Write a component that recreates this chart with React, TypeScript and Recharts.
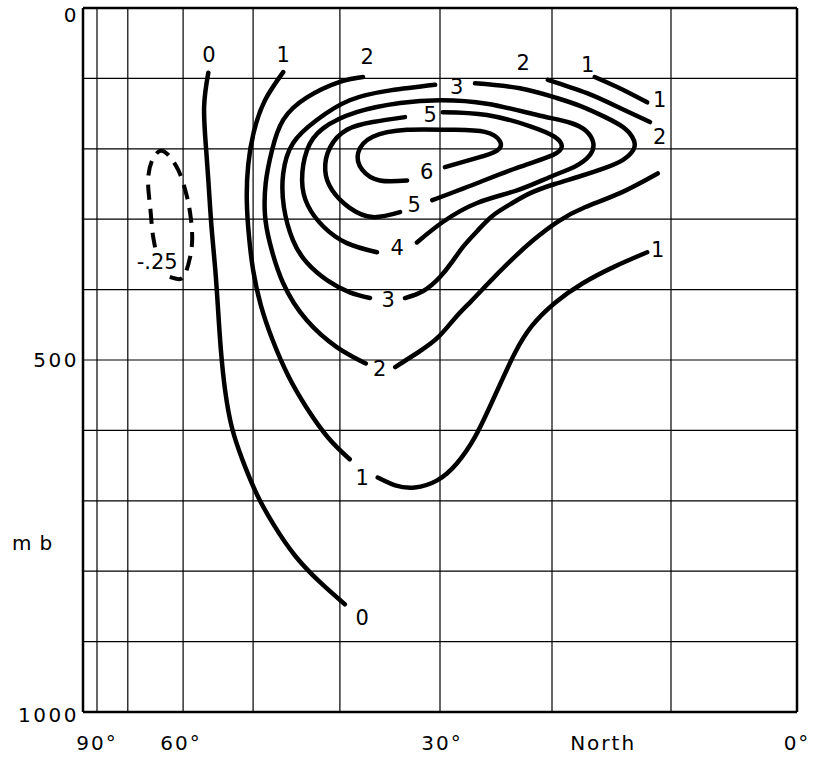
import { ComposedChart, Line, Scatter, XAxis, YAxis, ReferenceLine, Label } from "recharts";

const FONT = '"DejaVu Sans", sans-serif';

// x is sin(latitude) (equal-area axis, 90° left, 0° right), y is pressure in mb
const gridSin = [1.0, 0.956, 0.877, 0.777, 0.653, 0.51, 0.35, 0.18];
const gridMb = [100, 200, 300, 400, 500, 600, 700, 800, 900];
const frameSin = [1.02, 0];
const frameMb = [0, 1000];

const latTicks = [1.0, 0.88, 0.507, 0.277, 0];
const latLabels = ["90°", "60°", "30°", "North", "0°"];
const mbTicks = [0, 500, 1000];

// contour pieces, [sin lat, mb]
const c0 = [[0.841, 92], [0.847, 141], [0.844, 202], [0.84, 259], [0.836, 316], [0.831, 372], [0.827, 429], [0.823, 486], [0.817, 543], [0.807, 597], [0.791, 645], [0.771, 692], [0.747, 735], [0.717, 778], [0.681, 816], [0.646, 847]];
const c1West = [[0.734, 91], [0.76, 131], [0.776, 176], [0.784, 223], [0.786, 273], [0.783, 323], [0.777, 372], [0.766, 422], [0.749, 472], [0.727, 522], [0.701, 567], [0.67, 610], [0.639, 641]];
const c1East = [[0.599, 667], [0.574, 678], [0.546, 681], [0.514, 671], [0.486, 647], [0.461, 611], [0.441, 571], [0.423, 532], [0.403, 490], [0.379, 452], [0.346, 419], [0.306, 391], [0.26, 367], [0.214, 347]];
const c1Top = [[0.289, 98], [0.251, 115], [0.214, 134]];
const c2West = [[0.62, 98], [0.653, 105], [0.7, 127], [0.734, 159], [0.75, 202], [0.759, 249], [0.76, 294], [0.753, 334], [0.734, 391], [0.7, 444], [0.657, 482], [0.616, 505]];
const c2East = [[0.574, 510], [0.541, 489], [0.513, 468], [0.489, 441], [0.466, 417], [0.439, 389], [0.41, 360], [0.377, 330], [0.341, 303], [0.303, 283], [0.253, 263], [0.199, 235]];
const c2Top = [[0.356, 102], [0.3, 121], [0.253, 142], [0.21, 162]];
const c3West = [[0.517, 109], [0.581, 117], [0.639, 131], [0.686, 159], [0.72, 192], [0.734, 235], [0.733, 283], [0.72, 330], [0.7, 362], [0.671, 387], [0.639, 404], [0.61, 412]];
const c3East = [[0.56, 412], [0.534, 402], [0.51, 382], [0.493, 361], [0.476, 338], [0.457, 317], [0.436, 296], [0.41, 279], [0.381, 263], [0.346, 250], [0.31, 239], [0.274, 227], [0.249, 216], [0.234, 202], [0.233, 188], [0.246, 171], [0.274, 155], [0.31, 139], [0.346, 127], [0.396, 114], [0.46, 107]];
const c4 = [[0.543, 333], [0.506, 304], [0.457, 277], [0.4, 259], [0.353, 240], [0.317, 225], [0.296, 209], [0.291, 192], [0.301, 175], [0.324, 163], [0.371, 152], [0.443, 136], [0.51, 131], [0.567, 135], [0.629, 148], [0.677, 171], [0.7, 202], [0.707, 245], [0.699, 280], [0.677, 310], [0.643, 334], [0.6, 347]];
const c5West = [[0.56, 155], [0.606, 162], [0.643, 173], [0.667, 198], [0.674, 230], [0.664, 259], [0.639, 284], [0.606, 297], [0.567, 290]];
const c5East = [[0.506, 148], [0.443, 152], [0.381, 168], [0.346, 183], [0.336, 196], [0.349, 209], [0.4, 227], [0.46, 250], [0.521, 273]];
const c6 = [[0.503, 226], [0.457, 213], [0.429, 203], [0.424, 190], [0.446, 176], [0.496, 173], [0.557, 173], [0.606, 183], [0.627, 206], [0.621, 230], [0.596, 245], [0.557, 245]];
const cNeg = [[0.917, 340], [0.921, 316], [0.924, 283], [0.927, 245], [0.921, 216], [0.91, 203], [0.899, 208], [0.884, 230], [0.873, 262], [0.867, 291], [0.864, 326], [0.867, 354], [0.873, 375], [0.881, 385], [0.896, 382]];

const solidPieces = [c0, c1West, c1East, c1Top, c2West, c2East, c2Top, c3West, c3East, c4, c5West, c5East, c6];

// contour labels: [sin lat, mb, text]
const contourLabels: [number, number, string][] = [
  [0.84, 67, "0"], [0.734, 67, "1"], [0.614, 70, "2"], [0.391, 78, "2"], [0.299, 81, "1"],
  [0.486, 112, "3"], [0.196, 131, "1"], [0.524, 152, "5"], [0.196, 183, "2"], [0.529, 233, "6"],
  [0.547, 280, "5"], [0.571, 341, "4"], [0.584, 415, "3"], [0.199, 344, "1"], [0.596, 513, "2"],
  [0.621, 667, "1"], [0.621, 867, "0"], [0.914, 361, "-.25"],
];

const pts = (a: number[][]) => a.map(([x, y]) => ({ x, y }));
const labelData = contourLabels.map(([x, y, t]) => ({ x, y, t }));

const XTick = (props: any) => {
  const { x, y, payload } = props;
  const i = latTicks.indexOf(payload.value);
  return (
    <text x={x} y={y + 38} textAnchor="middle" fontFamily={FONT} fontSize={20} letterSpacing={2} fill="#000">
      {latLabels[i]}
    </text>
  );
};

const YTick = (props: any) => {
  const { x, y, payload } = props;
  const shift = payload.value === 0 ? 7 : payload.value === 1000 ? 3 : 0;
  return (
    <text x={x - 4} y={y + shift} textAnchor="end" dominantBaseline="central" fontFamily={FONT} fontSize={20} letterSpacing={2.5} fill="#000">
      {payload.value}
    </text>
  );
};

const LabelShape = (props: any) => {
  const { cx, cy, payload } = props;
  return (
    <text x={cx} y={cy} textAnchor="middle" dominantBaseline="central" fontFamily={FONT} fontSize={21} fill="#000">
      {payload.t}
    </text>
  );
};

export default function App() {
  return (
    <div style={{ position: "absolute", left: 0, top: 0, background: "#fff" }}>
      <ComposedChart width={822} height={761} margin={{ top: 8, right: 25, bottom: 0, left: 0 }}>
        <XAxis dataKey="x" type="number" domain={[0, 1.02]} reversed allowDataOverflow ticks={latTicks} interval={0}
          axisLine={false} tickLine={false} tickSize={0} tickMargin={0} height={49} tick={<XTick />} />
        <YAxis type="number" domain={[0, 1000]} reversed allowDataOverflow ticks={mbTicks} interval={0}
          axisLine={false} tickLine={false} tickSize={0} tickMargin={0} width={83} tick={<YTick />}>
          <Label value="mb" position="insideLeft" offset={12} dy={183} fill="#000" fontFamily={FONT} fontSize={20} letterSpacing={8} />
        </YAxis>
        {gridSin.map((v) => <ReferenceLine key={"gx" + v} x={v} stroke="#000" strokeWidth={1.2} />)}
        {gridMb.map((v) => <ReferenceLine key={"gy" + v} y={v} stroke="#000" strokeWidth={1.2} />)}
        {frameSin.map((v) => <ReferenceLine key={"fx" + v} x={v} stroke="#000" strokeWidth={2.5} />)}
        {frameMb.map((v) => <ReferenceLine key={"fy" + v} y={v} stroke="#000" strokeWidth={2.5} />)}
        {solidPieces.map((p, i) => (
          <Line key={"c" + i} data={pts(p)} dataKey="y" type="natural" stroke="#000" strokeWidth={4.5}
            strokeLinecap="round" dot={false} activeDot={false} isAnimationActive={false} />
        ))}
        <Line data={pts(cNeg)} dataKey="y" type="natural" stroke="#000" strokeWidth={4} strokeDasharray="15 9"
          dot={false} activeDot={false} isAnimationActive={false} />
        <Scatter data={labelData} dataKey="y" shape={<LabelShape />} isAnimationActive={false} />
      </ComposedChart>
    </div>
  );
}
